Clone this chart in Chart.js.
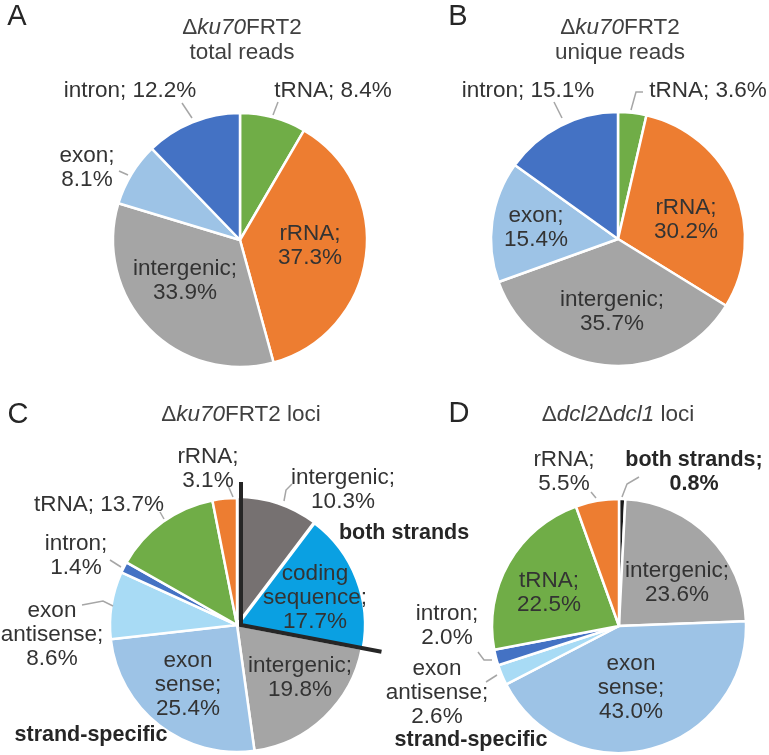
<!DOCTYPE html>
<html>
<head>
<meta charset="utf-8">
<script src="https://cdn.jsdelivr.net/npm/chart.js@4.4.1/dist/chart.umd.min.js"></script>
<style>
  body { margin: 0; background: #fff; }
  #page { position: relative; width: 769px; height: 755px; overflow: hidden; font-family: "Liberation Sans", Arial, sans-serif; }
  canvas { position: absolute; left: 0; top: 0; }
  .t { position: absolute; transform: translate(-50%, -50%); white-space: nowrap; font-size: 22.5px; line-height: 1; color: #404040; text-align: center; }
  .letter { position: absolute; transform: translate(-50%, -50%); font-size: 29px; line-height: 1; color: #262626; }
</style>
</head>
<body>
<div id="page">
  <canvas id="pieA" width="769" height="755"></canvas>
  <canvas id="pieB" width="769" height="755"></canvas>
  <canvas id="pieC" width="769" height="755"></canvas>
  <canvas id="pieD" width="769" height="755"></canvas>

  <div class="letter" style="left:17px;top:15px">A</div>
  <div class="letter" style="left:458px;top:15px">B</div>
  <div class="letter" style="left:18px;top:413px">C</div>
  <div class="letter" style="left:459px;top:412px">D</div>

  <div class="t" style="left:242px;top:27px">Δ<i>ku70</i>FRT2</div>
  <div class="t" style="left:242px;top:52px">total reads</div>
  <div class="t" style="left:620px;top:27px">Δ<i>ku70</i>FRT2</div>
  <div class="t" style="left:620px;top:52px">unique reads</div>
  <div class="t" style="left:241px;top:414px">Δ<i>ku70</i>FRT2 loci</div>
  <div class="t" style="left:618px;top:414px">Δ<i>dcl2</i>Δ<i>dcl1</i> loci</div>
</div>
<script>
// Datos de cada panel
const labelsAB = ["tRNA", "rRNA", "intergenic", "exon", "intron"];
const valuesA = [8.4, 37.3, 33.9, 8.1, 12.2];
const valuesB = [3.6, 30.2, 35.7, 15.4, 15.1];

const labelsC = ["intergenic (both strands)", "coding sequence", "intergenic", "exon sense", "exon antisense", "intron", "tRNA", "rRNA"];
const valuesC = [10.3, 17.7, 19.8, 25.4, 8.6, 1.4, 13.7, 3.1];

const labelsD = ["both strands", "intergenic", "exon sense", "exon antisense", "intron", "tRNA", "rRNA"];
const valuesD = [0.8, 23.6, 43.0, 2.6, 2.0, 22.5, 5.5];

// Colores
const GREEN = "#70AD47", ORANGE = "#ED7D31", GRAY = "#A5A5A5", LIGHTBLUE = "#9DC3E6",
  BLUE = "#4472C4", DARKGRAY = "#767171", CODING = "#0AA0E2", PALEBLUE = "#A8DBF5", BLACK = "#1A1A1A";

const colorsAB = [GREEN, ORANGE, GRAY, LIGHTBLUE, BLUE];
const colorsC = [DARKGRAY, CODING, GRAY, LIGHTBLUE, PALEBLUE, BLUE, GREEN, ORANGE];
const colorsD = [BLACK, GRAY, LIGHTBLUE, PALEBLUE, BLUE, GREEN, ORANGE];

const W = 769, H = 755, R = 127;

// Etiquetas: "{v}" se reemplaza por el valor de la serie
const layoutA = [
  { i: 4, lines: ["intron; {v}"], x: 130, y: 91, lead: [[182, 103], [192, 118]] },
  { i: 0, lines: ["tRNA; {v}"], x: 333, y: 91, lead: [[278, 102], [273, 115]] },
  { i: 3, lines: ["exon;", "{v}"], x: 87, y: 168, lead: [[119, 171], [128, 175]] },
  { i: 1, lines: ["rRNA;", "{v}"], x: 310, y: 246 },
  { i: 2, lines: ["intergenic;", "{v}"], x: 185, y: 281 },
];
const layoutB = [
  { i: 4, lines: ["intron; {v}"], x: 528, y: 91, lead: [[554, 102], [562, 118]] },
  { i: 0, lines: ["tRNA; {v}"], x: 708, y: 91, lead: [[643, 92], [636, 92], [631, 110]] },
  { i: 1, lines: ["rRNA;", "{v}"], x: 686, y: 220 },
  { i: 3, lines: ["exon;", "{v}"], x: 536, y: 228 },
  { i: 2, lines: ["intergenic;", "{v}"], x: 612, y: 312 },
];
const layoutC = [
  { i: 7, lines: ["rRNA;", "{v}"], x: 208, y: 469, lead: [[227, 483], [233, 497]] },
  { i: 6, lines: ["tRNA; {v}"], x: 99, y: 505, lead: [[160, 512], [164, 519]] },
  { i: 5, lines: ["intron;", "{v}"], x: 76, y: 556, lead: [[110, 560], [121, 567]] },
  { i: 4, lines: ["exon", "antisense;", "{v}"], x: 52, y: 635, lead: [[82, 605], [103, 601], [113, 606]] },
  { i: 0, lines: ["intergenic;", "{v}"], x: 343, y: 490, lead: [[292, 484], [286, 490], [284, 501]] },
  { i: 1, lines: ["coding", "sequence;", "{v}"], x: 315, y: 598 },
  { i: 2, lines: ["intergenic;", "{v}"], x: 300, y: 678 },
  { i: 3, lines: ["exon", "sense;", "{v}"], x: 188, y: 685 },
  { lines: ["both strands"], x: 404, y: 533, bold: true },
  { lines: ["strand-specific"], x: 91, y: 735, bold: true },
];
const layoutD = [
  { i: 6, lines: ["rRNA;", "{v}"], x: 564, y: 472, lead: [[591, 492], [596, 498]] },
  { i: 0, lines: ["both strands;", "{v}"], x: 694, y: 472, bold: true, lead: [[639, 477], [627, 484], [622, 497]] },
  { i: 5, lines: ["tRNA;", "{v}"], x: 549, y: 593 },
  { i: 1, lines: ["intergenic;", "{v}"], x: 677, y: 583 },
  { i: 4, lines: ["intron;", "{v}"], x: 447, y: 626, lead: [[478, 652], [484, 660], [492, 660]] },
  { i: 3, lines: ["exon", "antisense;", "{v}"], x: 437, y: 693, lead: [[486, 682], [497, 675]] },
  { i: 2, lines: ["exon", "sense;", "{v}"], x: 631, y: 688 },
  { lines: ["strand-specific"], x: 471, y: 740, bold: true },
];

function labelPlugin(layout, values) {
  return {
    id: "sliceLabels",
    afterDatasetsDraw(chart) {
      const ctx = chart.ctx;
      ctx.save();
      layout.forEach((l) => {
        if (l.lead) {
          ctx.strokeStyle = "#A6A6A6";
          ctx.lineWidth = 1.5;
          ctx.beginPath();
          l.lead.forEach((p, k) => (k ? ctx.lineTo(p[0], p[1]) : ctx.moveTo(p[0], p[1])));
          ctx.stroke();
        }
        ctx.font = l.bold ? 'bold 21.5px "Liberation Sans", Arial, sans-serif' : '22.5px "Liberation Sans", Arial, sans-serif';
        ctx.fillStyle = l.bold ? "#262626" : "#333333";
        ctx.textAlign = "center";
        ctx.textBaseline = "middle";
        const lh = 24;
        const y0 = l.y - ((l.lines.length - 1) * lh) / 2;
        l.lines.forEach((s, k) => {
          const txt = l.i === undefined ? s : s.replace("{v}", values[l.i].toFixed(1) + "%");
          ctx.fillText(txt, l.x, y0 + k * lh);
        });
      });
      ctx.restore();
    },
  };
}

// Corchete negro del panel C (separa "both strands")
const bracketPlugin = {
  id: "bracket",
  afterDatasetsDraw(chart) {
    const arcs = chart.getDatasetMeta(0).data;
    const cx = arcs[2].x + 4, cy = arcs[2].y;
    const a = arcs[1].endAngle;
    const ctx = chart.ctx;
    ctx.save();
    ctx.strokeStyle = "#262626";
    ctx.lineWidth = 4;
    ctx.lineJoin = "miter";
    ctx.beginPath();
    ctx.moveTo(cx, cy - R - 16);
    ctx.lineTo(cx, cy);
    ctx.lineTo(cx + Math.cos(a) * (R + 16), cy + Math.sin(a) * (R + 16));
    ctx.stroke();
    ctx.restore();
  },
};

function makePie(id, cx, cy, labels, values, colors, layout, extra, offsets) {
  const plugins = [labelPlugin(layout, values)];
  if (extra) plugins.push(extra);
  return new Chart(document.getElementById(id), {
    type: "pie",
    data: {
      labels: labels,
      datasets: [{
        data: values,
        backgroundColor: colors,
        borderColor: "#FFFFFF",
        borderWidth: 2.5,
        offset: offsets || 0,
        clip: false,
      }],
    },
    options: {
      responsive: false,
      animation: false,
      radius: R,
      layout: { padding: { left: cx - 100, right: W - cx - 100, top: cy - 100, bottom: H - cy - 100 } },
      plugins: { legend: { display: false }, tooltip: { enabled: false } },
    },
    plugins: plugins,
  });
}

makePie("pieA", 240, 240, labelsAB, valuesA, colorsAB, layoutA);
makePie("pieB", 618, 239, labelsAB, valuesB, colorsAB, layoutB);
makePie("pieC", 237, 625, labelsC, valuesC, colorsC, layoutC, bracketPlugin, [4, 4, 0, 0, 0, 0, 0, 0]);
makePie("pieD", 619, 626, labelsD, valuesD, colorsD, layoutD);
</script>
</body>
</html>
